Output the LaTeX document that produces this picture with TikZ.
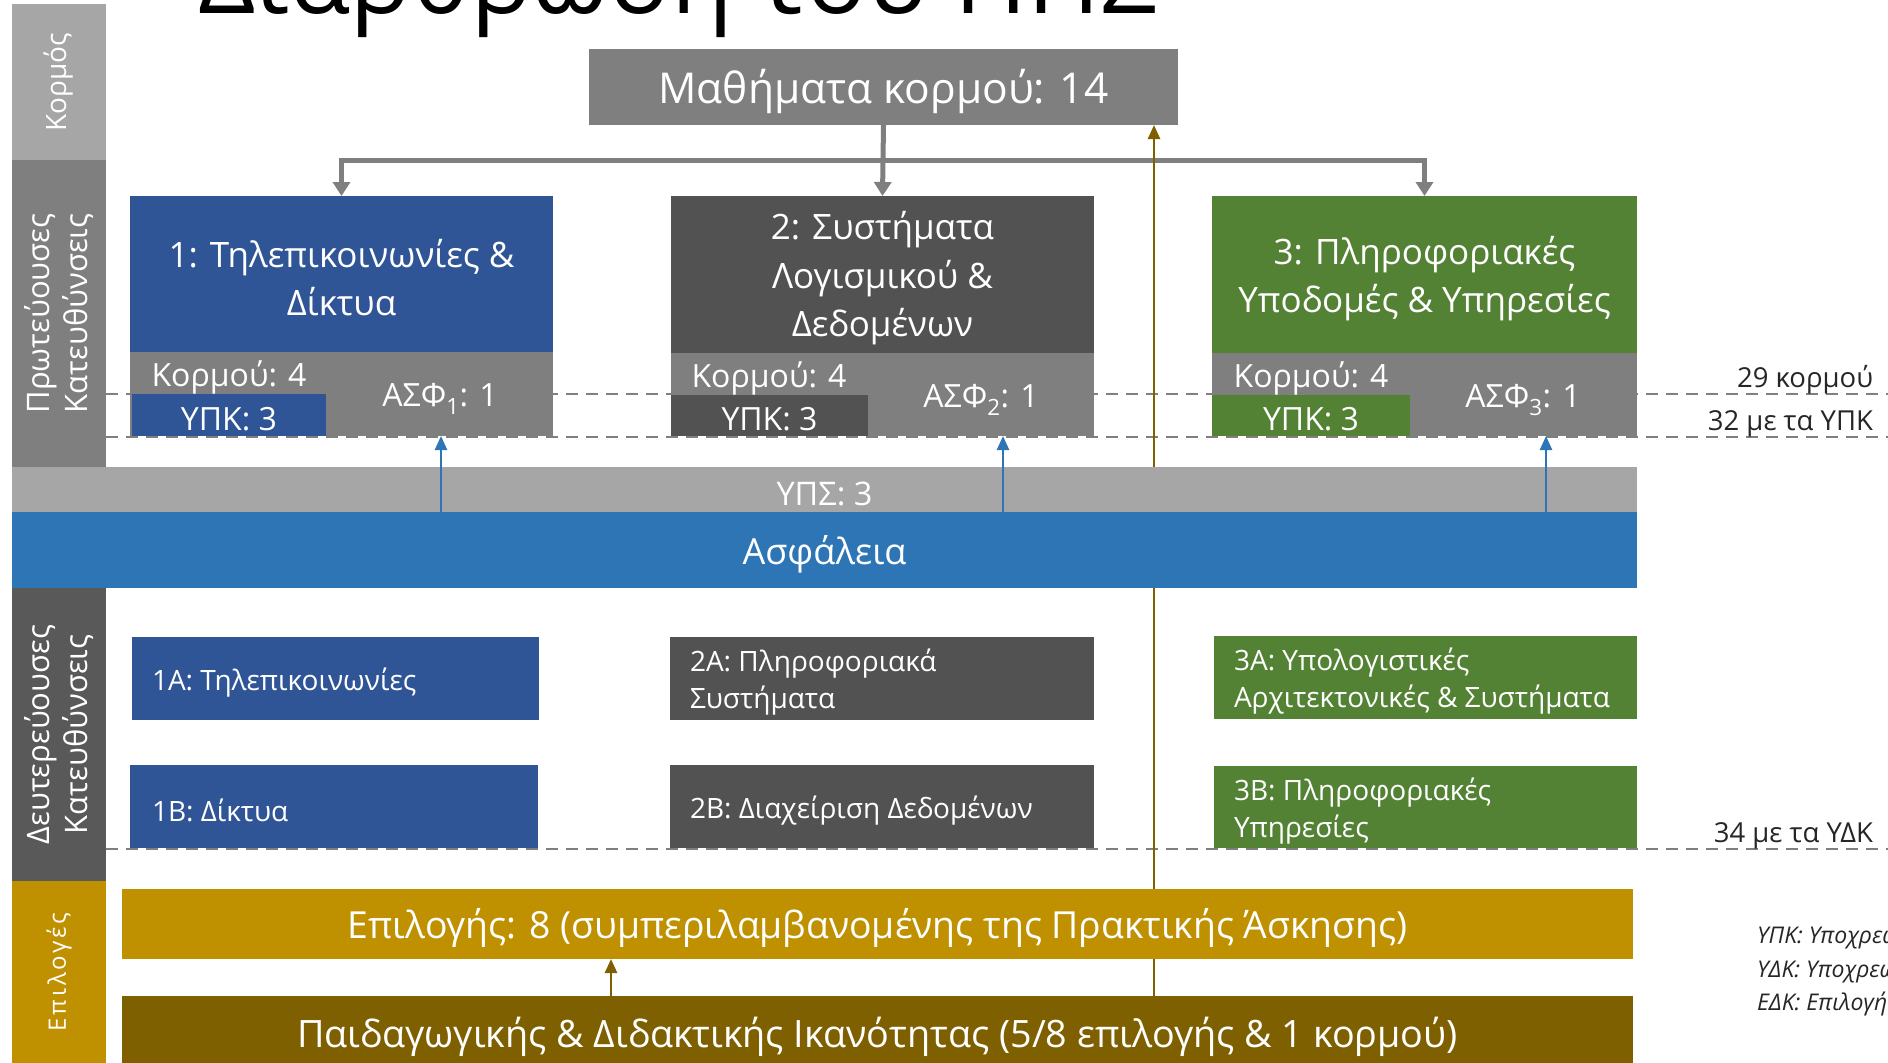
\documentclass[tikz,border=0pt]{standalone}
\usepackage{fontspec}
\setmainfont{Open Sans}
\newfontfamily\spacedfont[LetterSpace=12]{Open Sans}
\usetikzlibrary{arrows.meta,positioning}
\pgfdeclarelayer{bg}
\pgfsetlayers{bg,main}
\newcommand{\myfs}[2]{\fontsize{#1}{#2}\selectfont}
\definecolor{cBlue}{HTML}{2F5597}
\definecolor{cDark}{HTML}{525252}
\definecolor{cGreen}{HTML}{548235}
\definecolor{cGrey}{HTML}{7F7F7F}
\definecolor{cLight}{HTML}{A6A6A6}
\definecolor{cSide}{HTML}{595959}
\definecolor{cSafe}{HTML}{2E75B6}
\definecolor{cGold}{HTML}{BF9000}
\definecolor{cBrown}{HTML}{7F6000}
\definecolor{cText}{HTML}{262626}
\begin{document}
\begin{tikzpicture}[x=1pt,y=-1pt,
  every node/.style={inner sep=0pt,outer sep=0pt},
  fillbox/.style={fill=#1,draw=none,anchor=north west},
  txt/.style={text=white,align=center,yshift=-4pt},
  sidetext/.style={rotate=90,text=white,align=center,font={\myfs{31}{38}}},
  conn/.style={draw=cGrey,line width=5pt},
  ctip/.style={-{Triangle[length=14pt,width=17pt]}},
  blarrow/.style={draw=cSafe,line width=2.5pt,-{Triangle[length=14pt,width=12pt]}},
  brarrow/.style={draw=cBrown,line width=2.5pt,-{Triangle[length=14pt,width=12pt]}},
  dline/.style={draw=cGrey,line width=2.5pt,dash pattern=on 12pt off 8pt},
  sublabel/.style={txt,font={\myfs{32}{36}}},
  sectext/.style={text=white,align=left,anchor=west,yshift=-4pt,font={\myfs{28}{37}}},
  rlabel/.style={anchor=base east,text=cText,font={\myfs{27.5}{30}}},
  legend/.style={anchor=base west,text=cText,font={\myfs{23}{28}\itshape}},
]
\useasboundingbox (0,0) rectangle (1888,1063);
\clip (0,0) rectangle (1888,1063);

% title (cut off at top)
\node[anchor=base west,text=black,font={\myfs{100.5}{100}}] (title) at (198,13) {Διάρθρωση του ΠΠΣ};

% left side bands
\node[fillbox=cLight,minimum width=94pt,minimum height=156pt] (sideK) at (12,4) {};
\node[sidetext,font={\myfs{28}{38}}] (sideKt) at (sideK.center) {Κορμός};
\node[fillbox=cGrey,minimum width=94pt,minimum height=307pt] (sideP) at (12,160) {};
\node[sidetext] (sidePt) at (sideP.center) {Πρωτεύουσες\\Κατευθύνσεις};
\node[fillbox=cSide,minimum width=94pt,minimum height=293pt] (sideD) at (12,588) {};
\node[sidetext] (sideDt) at (sideD.center) {Δευτερεύουσες\\Κατευθύνσεις};
\node[fillbox=cGold,minimum width=94pt,minimum height=182pt] (sideE) at (12,881) {};
\node[rotate=90,text=white,font={\myfs{24}{26}\spacedfont}] (sideEt) at (sideE.center) {Επιλογές};

% core
\node[fillbox=cGrey,minimum width=589pt,minimum height=76pt] (core) at (589,49) {};
\node[txt,font={\myfs{42.5}{50}}] (coret) at (core.center) {Μαθήματα κορμού: 14};

% primary 1
\node[fillbox=cBlue,minimum width=423pt,minimum height=156pt] (p1t) at (130,196) {};
\node[txt,font={\myfs{35}{48}}] (p1tt) at (p1t.center) {1: Τηλεπικοινωνίες \&\\Δίκτυα};
\node[fillbox=cGrey,minimum width=423pt,minimum height=84pt] (p1g) at (130,352) {};
\node[fillbox=cBlue,minimum width=194pt,minimum height=42pt] (p1y) at (132,394) {};
\node[sublabel] (p1yt) at (p1y.center) {ΥΠΚ: 3};
\node[sublabel] (p1k) at (229,373) {Κορμού: 4};
\node[sublabel] (p1a) at (440,395) {ΑΣΦ\textsubscript{1}: 1};

% primary 2
\node[fillbox=cDark,minimum width=423pt,minimum height=157pt] (p2t) at (671,196) {};
\node[txt,font={\myfs{35}{48.5}}] (p2tt) at (p2t.center) {2: Συστήματα\\Λογισμικού \&\\Δεδομένων};
\node[fillbox=cGrey,minimum width=423pt,minimum height=83pt] (p2g) at (671,353) {};
\node[fillbox=cDark,minimum width=197pt,minimum height=41pt] (p2y) at (671,395) {};
\node[sublabel] (p2yt) at (p2y.center) {ΥΠΚ: 3};
\node[sublabel] (p2k) at (769,374) {Κορμού: 4};
\node[sublabel] (p2a) at (981,396) {ΑΣΦ\textsubscript{2}: 1};

% primary 3
\node[fillbox=cGreen,minimum width=425pt,minimum height=157pt] (p3t) at (1212,196) {};
\node[txt,font={\myfs{35}{48}}] (p3tt) at (p3t.center) {3: Πληροφοριακές\\Υποδομές \& Υπηρεσίες};
\node[fillbox=cGrey,minimum width=425pt,minimum height=83pt] (p3g) at (1212,353) {};
\node[fillbox=cGreen,minimum width=198pt,minimum height=41pt] (p3y) at (1212,395) {};
\node[sublabel] (p3yt) at (p3y.center) {ΥΠΚ: 3};
\node[sublabel] (p3k) at (1311,374) {Κορμού: 4};
\node[sublabel] (p3a) at (1523,396) {ΑΣΦ\textsubscript{3}: 1};

% bands
\node[fillbox=cLight,minimum width=1625pt,minimum height=45pt] (ups) at (12,467) {};
\node[txt,font={\myfs{32.5}{36}}] (upst) at (ups.center) {ΥΠΣ: 3};
\node[fillbox=cSafe,minimum width=1625pt,minimum height=76pt] (safety) at (12,512) {};
\node[txt,font={\myfs{36}{40}}] (safetyt) at (safety.center) {Ασφάλεια};

% secondary
\node[fillbox=cBlue,minimum width=407pt,minimum height=83pt] (s1a) at (132,637) {};
\node[sectext,right=20pt of s1a.west] (s1at) {1A: Τηλεπικοινωνίες};
\node[fillbox=cBlue,minimum width=408pt,minimum height=83pt] (s1b) at (130,765) {};
\node[sectext,right=22pt of s1b.west] (s1bt) {1B: Δίκτυα};
\node[fillbox=cDark,minimum width=424pt,minimum height=83pt] (s2a) at (670,637) {};
\node[sectext,right=20pt of s2a.west] (s2at) {2A: Πληροφοριακά\\Συστήματα};
\node[fillbox=cDark,minimum width=424pt,minimum height=83pt] (s2b) at (670,765) {};
\node[sectext,right=20pt of s2b.west] (s2bt) {2B: Διαχείριση Δεδομένων};
\node[fillbox=cGreen,minimum width=423pt,minimum height=83pt] (s3a) at (1214,636) {};
\node[sectext,right=20pt of s3a.west] (s3at) {3A: Υπολογιστικές\\Αρχιτεκτονικές \& Συστήματα};
\node[fillbox=cGreen,minimum width=423pt,minimum height=82pt] (s3b) at (1214,766) {};
\node[sectext,right=20pt of s3b.west] (s3bt) {3B: Πληροφοριακές\\Υπηρεσίες};

% electives
\node[fillbox=cGold,minimum width=1511pt,minimum height=70pt] (elect) at (122,889) {};
\node[txt,font={\myfs{37.3}{42}}] (electt) at (elect.center) {Επιλογής: 8 (συμπεριλαμβανομένης της Πρακτικής Άσκησης)};
\node[fillbox=cBrown,minimum width=1511pt,minimum height=74pt] (pedag) at (122,996) {};
\node[txt,font={\myfs{37.7}{42}}] (pedagt) at (pedag.center) {Παιδαγωγικής \& Διδακτικής Ικανότητας (5/8 επιλογής \& 1 κορμού)};

% right labels
\node[rlabel] (l29) at (1873,387) {29 κορμού};
\node[rlabel] (l32) at (1873,430) {32 με τα ΥΠΚ};
\node[rlabel] (l34) at (1873,842) {34 με τα ΥΔΚ};

% legend (cut off at right)
\node[legend] (leg1) at (1757,943) {ΥΠΚ: Υποχρεωτικά Πρωτεύουσας Κατεύθυνσης};
\node[legend] (leg2) at (1757,977) {ΥΔΚ: Υποχρεωτικά Δευτερεύουσας Κατεύθυνσης};
\node[legend] (leg3) at (1757,1010) {ΕΔΚ: Επιλογής Δευτερεύουσας Κατεύθυνσης};

% coordinates
\coordinate (d1s) at (106,394); \coordinate (d1e) at (1888,394);
\coordinate (d2s) at (106,437); \coordinate (d2e) at (1888,437);
\coordinate (d3s) at (106,849); \coordinate (d3e) at (1888,849);
\coordinate (hub) at (883,160);
\coordinate (bx) at (1154,0);
\coordinate (ax) at (611,0);
\coordinate (b1x) at (441,0);
\coordinate (b2x) at (1003,0);
\coordinate (b3x) at (1546,0);

\begin{pgfonlayer}{bg}
  \draw[dline] (d1s) -- (d1e);
  \draw[dline] (d2s) -- (d2e);
  \draw[dline] (d3s) -- (d3e);
  \draw[conn] (core.south) -- (hub);
  \draw[conn,ctip] (hub) -| (p1t.north);
  \draw[conn,ctip] (hub) -- (p2t.north);
  \draw[conn,ctip] (hub) -| (p3t.north);
  \draw[brarrow] (pedag.north -| bx) -- (core.south -| bx);
\end{pgfonlayer}

\draw[blarrow] (safety.north -| b1x) -- (p1g.south -| b1x);
\draw[blarrow] (safety.north -| b2x) -- (p2g.south -| b2x);
\draw[blarrow] (safety.north -| b3x) -- (p3g.south -| b3x);
\draw[brarrow] (pedag.north -| ax) -- (elect.south -| ax);
\end{tikzpicture}
\end{document}
